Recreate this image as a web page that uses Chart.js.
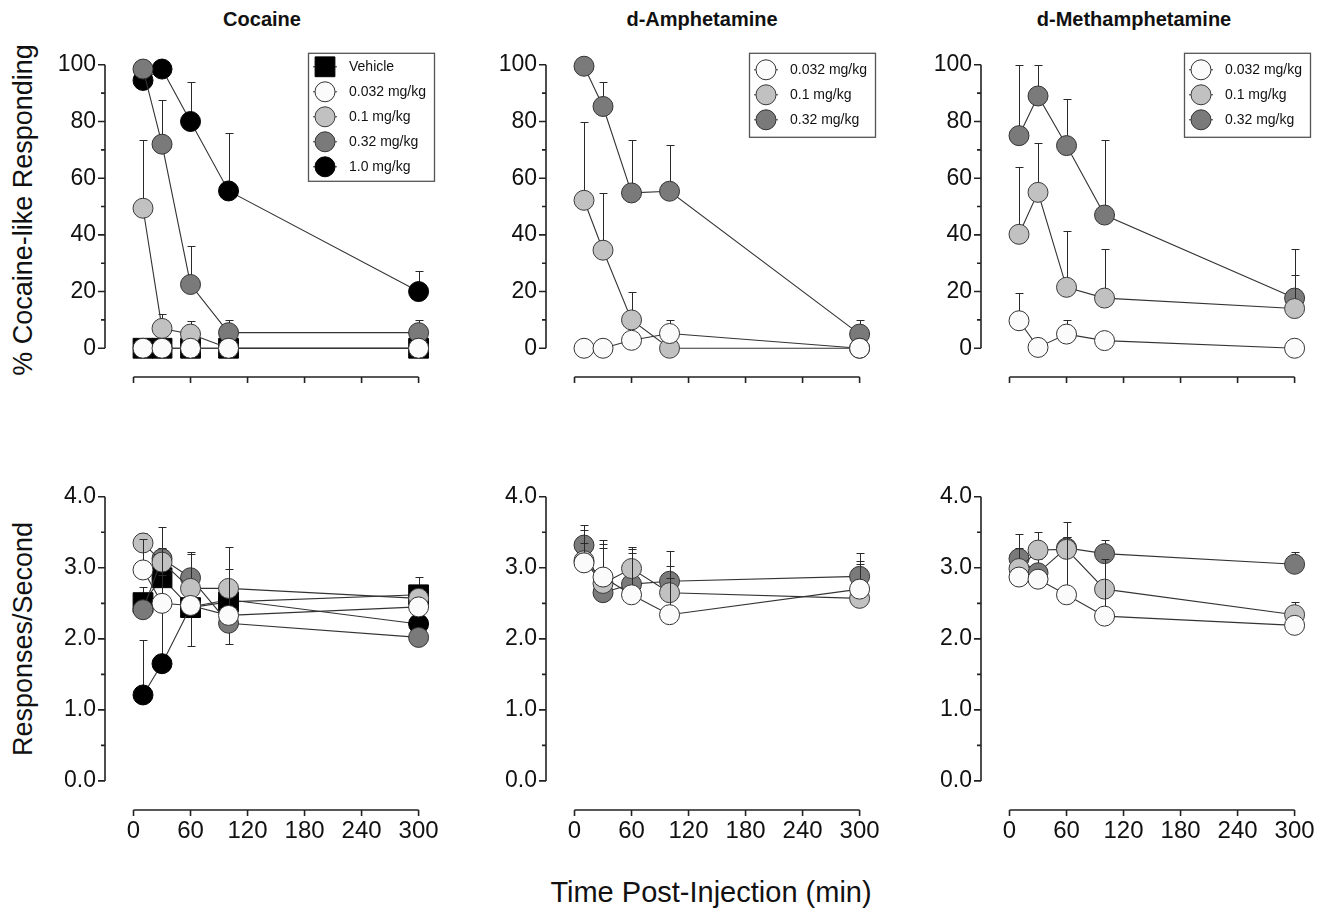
<!DOCTYPE html>
<html>
<head>
<meta charset="utf-8">
<script src="https://cdn.jsdelivr.net/npm/chart.js@4.4.0/dist/chart.umd.min.js"></script>
<style>
html, body { margin: 0; padding: 0; background: #fff; }
body { width: 1334px; height: 916px; position: relative; overflow: hidden; font-family: "Liberation Sans", Arial, sans-serif; color: #111; }
.panel { position: absolute; }
.txt { position: absolute; white-space: nowrap; line-height: 1; }
.title { font-size: 20px; font-weight: bold; transform: translateX(-50%); top: 9px; }
.ytitle { font-size: 27px; left: 23px; transform: translate(-50%, -50%) rotate(-90deg); }
.xtitle { font-size: 29px; left: 711px; top: 878px; transform: translateX(-50%); }
</style>
</head>
<body>

<div class="txt title" style="left:262px">Cocaine</div>
<div class="txt title" style="left:702px">d-Amphetamine</div>
<div class="txt title" style="left:1134px">d-Methamphetamine</div>
<div class="txt ytitle" style="top:210px">% Cocaine-like Responding</div>
<div class="txt ytitle" style="top:639px">Responses/Second</div>
<div class="txt xtitle">Time Post-Injection (min)</div>

<div class="panel" style="left:25px;top:42px;width:425px;height:380px"><canvas id="cocPct"></canvas></div>
<div class="panel" style="left:466px;top:42px;width:425px;height:380px"><canvas id="ampPct"></canvas></div>
<div class="panel" style="left:901px;top:42px;width:425px;height:380px"><canvas id="methPct"></canvas></div>
<div class="panel" style="left:25px;top:474px;width:425px;height:381px"><canvas id="cocRate"></canvas></div>
<div class="panel" style="left:466px;top:474px;width:425px;height:381px"><canvas id="ampRate"></canvas></div>
<div class="panel" style="left:901px;top:474px;width:425px;height:381px"><canvas id="methRate"></canvas></div>

<script>
// time points (min) and axis ticks
const times = [10, 30, 60, 100, 300];
const xTicks = [0, 60, 120, 180, 240, 300];
const pctTicks = [0, 20, 40, 60, 80, 100];
const rateTicks = [0, 1, 2, 3, 4];

// % cocaine-like responding (mean, SEM; SEM sign = bar direction)
const cocPctVeh = [0, 0, 0, 0, 0];
const cocPctVehErr = [0, 0, 0, 0, 0];
const cocPct0032 = [0, 0, 0, 0, 0];
const cocPct0032Err = [0, 0, 0, 0, 0];
const cocPct01 = [49.4, 7, 5, 0, 0];
const cocPct01Err = [24, 5, 4.5, 0, 0];
const cocPct032 = [98.5, 72, 22.5, 5.5, 5.5];
const cocPct032Err = [0, 15.5, 13.5, 4.5, 4.5];
const cocPct10 = [94.5, 98.5, 80, 55.5, 20];
const cocPct10Err = [0, 0, 14, 20.5, 7.3];

const ampPct0032 = [0, 0, 2.8, 5.2, 0];
const ampPct0032Err = [0, 0, 0, 4.7, 0];
const ampPct01 = [52.2, 34.6, 10, 0, 0];
const ampPct01Err = [27.6, 20, 9.8, 0, 0];
const ampPct032 = [99.5, 85.3, 54.8, 55.4, 5];
const ampPct032Err = [0, 8.5, 18.6, 16.3, 4.9];

const methPct0032 = [9.7, 0.3, 5, 2.7, 0];
const methPct0032Err = [9.9, 0, 4.9, 0, 0];
const methPct01 = [40.2, 55, 21.5, 17.7, 14];
const methPct01Err = [23.7, 17.5, 19.9, 17.3, 12];
const methPct032 = [75, 89, 71.5, 47, 17.7];
const methPct032Err = [25, 11, 16.5, 26.6, 17.3];

// response rate (responses/second)
const cocRateVeh = [2.51, 2.86, 2.44, 2.52, 2.62];
const cocRateVehErr = [0.22, 0.4, -0.54, -0.59, 0.25];
const cocRate0032 = [2.97, 2.50, 2.47, 2.33, 2.45];
const cocRate0032Err = [0.44, 1.08, 0, 0.66, 0];
const cocRate01 = [3.35, 3.08, 2.71, 2.71, 2.57];
const cocRate01Err = [0.14, 0, 0.48, 0.59, 0];
const cocRate032 = [2.41, 3.13, 2.86, 2.22, 2.02];
const cocRate032Err = [0, 0.15, 0.36, 0, 0];
const cocRate10 = [1.21, 1.65, 2.45, 2.55, 2.21];
const cocRate10Err = [0.78, 1.25, 0, 0, 0];

const ampRate0032 = [3.07, 2.87, 2.62, 2.34, 2.70];
const ampRate0032Err = [0.28, 0.47, 0.59, 0.69, 0.36];
const ampRate01 = [3.10, 2.78, 2.99, 2.65, 2.57];
const ampRate01Err = [0.43, 0.5, 0.31, 0.2, 0.53];
const ampRate032 = [3.32, 2.65, 2.77, 2.81, 2.88];
const ampRate032Err = [0.28, 0.74, 0.49, 0.42, 0.33];

const methRate0032 = [2.87, 2.84, 2.62, 2.32, 2.19];
const methRate0032Err = [0.1, 0.1, 0.81, 0.8, 0];
const methRate01 = [2.99, 3.25, 3.26, 2.70, 2.34];
const methRate01Err = [0.29, 0.26, 0.17, 0.1, 0.18];
const methRate032 = [3.13, 2.93, 3.28, 3.20, 3.05];
const methRate032Err = [0.34, 0.2, 0.36, 0.19, 0.17];

const doseStyle = {
    'Vehicle':     { fill: '#000000', edge: '#000000', shape: 'rect',   r: 14, order: 5 },
    '0.032 mg/kg': { fill: '#fbfbfb', edge: '#333333', shape: 'circle', r: 10, order: 1 },
    '0.1 mg/kg':   { fill: '#c1c1c1', edge: '#3a3a3a', shape: 'circle', r: 10, order: 2 },
    '0.32 mg/kg':  { fill: '#7a7a7a', edge: '#333333', shape: 'circle', r: 10, order: 3 },
    '1.0 mg/kg':   { fill: '#000000', edge: '#000000', shape: 'circle', r: 10, order: 4 }
};

const FONT = '"Liberation Sans", Arial, sans-serif';
Chart.defaults.font.family = FONT;
Chart.defaults.color = '#111';

// error bars, drawn just under each dataset's own markers
const errorBars = {
    id: 'errorBars',
    beforeDatasetDraw(chart, args) {
        const ds = chart.data.datasets[args.index];
        if (!ds.err) return;
        const { ctx, scales: { x, y } } = chart;
        ctx.save();
        ctx.strokeStyle = '#2a2a2a';
        ctx.lineWidth = 1;
        ds.data.forEach((p, i) => {
            const e = ds.err[i];
            if (!e) return;
            const px = Math.round(x.getPixelForValue(p.x)) + 0.5;
            const y0 = y.getPixelForValue(p.y);
            const y1 = Math.round(y.getPixelForValue(p.y + e)) + 0.5;
            ctx.beginPath();
            ctx.moveTo(px, y0);
            ctx.lineTo(px, y1);
            ctx.moveTo(px - 4, y1);
            ctx.lineTo(px + 4, y1);
            ctx.stroke();
        });
        ctx.restore();
    }
};

// detached Prism-style axes: y from 0 to top tick, x from 0 to 300
const frameAxes = {
    id: 'frameAxes',
    beforeDatasetsDraw(chart, args, opts) {
        const { ctx, chartArea, scales: { x, y } } = chart;
        const major = opts.yTicks;
        const left = chartArea.left, bottom = chartArea.bottom;
        ctx.save();
        ctx.strokeStyle = '#222';
        ctx.lineWidth = 1.6;
        ctx.beginPath();
        ctx.moveTo(left, y.getPixelForValue(major[major.length - 1]));
        ctx.lineTo(left, y.getPixelForValue(major[0]));
        major.forEach((v, i) => {
            const p = y.getPixelForValue(v);
            ctx.moveTo(left - 7, p);
            ctx.lineTo(left, p);
            if (i > 0) {
                const m = y.getPixelForValue((v + major[i - 1]) / 2);
                ctx.moveTo(left - 4, m);
                ctx.lineTo(left, m);
            }
        });
        ctx.moveTo(x.getPixelForValue(xTicks[0]), bottom);
        ctx.lineTo(x.getPixelForValue(xTicks[xTicks.length - 1]), bottom);
        xTicks.forEach(v => {
            const p = x.getPixelForValue(v);
            ctx.moveTo(p, bottom);
            ctx.lineTo(p, bottom + 6);
        });
        ctx.stroke();
        ctx.restore();
    }
};

// boxed legend in the top-right corner of the plot
const boxLegend = {
    id: 'boxLegend',
    afterDraw(chart, args, opts) {
        if (!opts.show) return;
        const { ctx, chartArea } = chart;
        const items = chart.data.datasets;
        const rowH = 25;
        const pad = items.length > 3 ? 14 : 17;
        const left = chartArea.right - 122;
        const top = chartArea.top - 12;
        const w = 126;
        const h = pad * 2 + (items.length - 1) * rowH;
        ctx.save();
        ctx.fillStyle = '#fff';
        ctx.fillRect(left, top, w, h);
        ctx.strokeStyle = '#555';
        ctx.lineWidth = 1.3;
        ctx.strokeRect(left + 0.5, top + 0.5, w, h);
        items.forEach((ds, i) => {
            const cx = left + 17;
            const cy = top + pad + i * rowH;
            ctx.strokeStyle = '#333';
            ctx.lineWidth = 1;
            ctx.beginPath();
            ctx.moveTo(cx - 12, cy);
            ctx.lineTo(cx + 12, cy);
            ctx.stroke();
            ctx.fillStyle = ds.pointBackgroundColor;
            ctx.strokeStyle = ds.pointBorderColor;
            Chart.helpers.drawPoint(ctx, { pointStyle: ds.pointStyle, radius: ds.pointRadius, rotation: 0, borderWidth: 1 }, cx, cy);
            ctx.fillStyle = '#111';
            ctx.font = '14px ' + FONT;
            ctx.textBaseline = 'middle';
            ctx.textAlign = 'left';
            ctx.fillText(ds.label, left + 41, cy);
        });
        ctx.restore();
    }
};

function makeDataset(label, values, err) {
    const st = doseStyle[label];
    return {
        label: label,
        data: times.map((t, i) => ({ x: t, y: values[i] })),
        err: err,
        borderColor: '#333',
        borderWidth: 1.1,
        pointStyle: st.shape,
        pointRadius: st.r,
        pointHoverRadius: st.r,
        pointBackgroundColor: st.fill,
        pointBorderColor: st.edge,
        pointBorderWidth: 1,
        tension: 0,
        fill: false,
        clip: false,
        order: st.order
    };
}

function makeChart(canvasId, series, yTicks, yRange, showXLabels, showLegend) {
    const ctx = document.getElementById(canvasId).getContext('2d');
    return new Chart(ctx, {
        type: 'line',
        data: { datasets: series.map(s => makeDataset(s[0], s[1], s[2])) },
        plugins: [frameAxes, errorBars, boxLegend],
        options: {
            responsive: true,
            maintainAspectRatio: false,
            animation: false,
            events: [],
            layout: { padding: { top: 20, right: 20, left: 0, bottom: 0 } },
            plugins: {
                legend: { display: false },
                tooltip: { enabled: false },
                frameAxes: { yTicks: yTicks },
                boxLegend: { show: showLegend }
            },
            scales: {
                x: {
                    type: 'linear',
                    min: -30,
                    max: 312,
                    afterBuildTicks: s => { s.ticks = xTicks.map(v => ({ value: v })); },
                    afterFit: s => { s.height = 45; },
                    grid: { display: false, drawTicks: false },
                    border: { display: false },
                    ticks: {
                        display: showXLabels,
                        autoSkip: false,
                        maxRotation: 0,
                        padding: 7,
                        color: '#111',
                        font: { size: 24 }
                    }
                },
                y: {
                    type: 'linear',
                    min: yRange[0],
                    max: yRange[1],
                    afterBuildTicks: s => { s.ticks = yTicks.map(v => ({ value: v })); },
                    afterFit: s => { s.width = 80; },
                    grid: { display: false, drawTicks: false },
                    border: { display: false },
                    ticks: {
                        autoSkip: false,
                        padding: 9,
                        color: '#111',
                        font: { size: 23 },
                        callback: v => yTicks === rateTicks ? v.toFixed(1) : String(v)
                    }
                }
            }
        }
    });
}

document.addEventListener('DOMContentLoaded', () => {
    const pctRange = [-10.14, 100];
    const rateRange = [-0.41, 4];

    makeChart('cocPct', [
        ['Vehicle', cocPctVeh, cocPctVehErr],
        ['0.032 mg/kg', cocPct0032, cocPct0032Err],
        ['0.1 mg/kg', cocPct01, cocPct01Err],
        ['0.32 mg/kg', cocPct032, cocPct032Err],
        ['1.0 mg/kg', cocPct10, cocPct10Err]
    ], pctTicks, pctRange, false, true);

    makeChart('ampPct', [
        ['0.032 mg/kg', ampPct0032, ampPct0032Err],
        ['0.1 mg/kg', ampPct01, ampPct01Err],
        ['0.32 mg/kg', ampPct032, ampPct032Err]
    ], pctTicks, pctRange, false, true);

    makeChart('methPct', [
        ['0.032 mg/kg', methPct0032, methPct0032Err],
        ['0.1 mg/kg', methPct01, methPct01Err],
        ['0.32 mg/kg', methPct032, methPct032Err]
    ], pctTicks, pctRange, false, true);

    makeChart('cocRate', [
        ['Vehicle', cocRateVeh, cocRateVehErr],
        ['0.032 mg/kg', cocRate0032, cocRate0032Err],
        ['0.1 mg/kg', cocRate01, cocRate01Err],
        ['0.32 mg/kg', cocRate032, cocRate032Err],
        ['1.0 mg/kg', cocRate10, cocRate10Err]
    ], rateTicks, rateRange, true, false);

    makeChart('ampRate', [
        ['0.032 mg/kg', ampRate0032, ampRate0032Err],
        ['0.1 mg/kg', ampRate01, ampRate01Err],
        ['0.32 mg/kg', ampRate032, ampRate032Err]
    ], rateTicks, rateRange, true, false);

    makeChart('methRate', [
        ['0.032 mg/kg', methRate0032, methRate0032Err],
        ['0.1 mg/kg', methRate01, methRate01Err],
        ['0.32 mg/kg', methRate032, methRate032Err]
    ], rateTicks, rateRange, true, false);
});
</script>
</body>
</html>
